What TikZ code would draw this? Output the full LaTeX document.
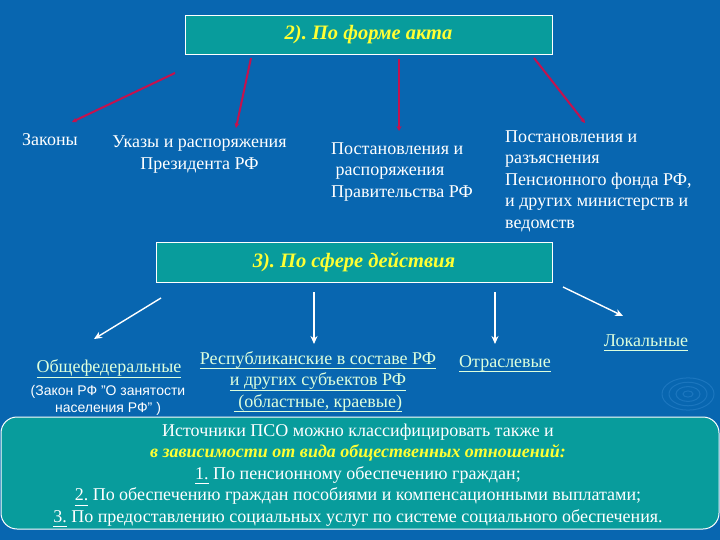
\documentclass[tikz,border=0pt]{standalone}
\usepackage{fontspec}
\setmainfont{Liberation Serif}
\setsansfont{Liberation Sans}
\usepackage{tikz}
\usetikzlibrary{arrows.meta}
\definecolor{SlideBlue}{HTML}{0866B0}
\definecolor{BoxTeal}{HTML}{089C9C}
\definecolor{ArrowRed}{HTML}{C4124E}
\definecolor{LinkGreen}{HTML}{DDFFDD}
\definecolor{TitleYellow}{HTML}{FFFF33}
\definecolor{SwirlBlue}{HTML}{4A9BE0}
\newsavebox{\ulbox}
\newcommand{\linkul}[1]{\sbox{\ulbox}{#1}\rlap{\rule[-5pt]{\wd\ulbox}{1.2pt}}\usebox{\ulbox}}

\begin{document}
\begin{tikzpicture}[x=1pt,y=-1pt,
  every node/.style={font=\fontsize{18}{21.5}\selectfont,text=white,inner sep=0pt},
  headbox/.style={draw=white,line width=.8pt,fill=BoxTeal,
    font=\fontsize{20.5}{24}\selectfont\bfseries\itshape,text=TitleYellow},
  redarrow/.style={-{Stealth[length=5pt,width=5pt]},ArrowRed,line width=2pt},
  whitearrow/.style={-{Stealth[length=8pt,width=7pt]},white,line width=1.4pt},
  linktext/.style={text=LinkGreen,align=center}]
\path[use as bounding box] (0,0) rectangle (720,540);
\fill[SlideBlue] (0,0) rectangle (720,540);
% faint swirl of the slide template
\foreach \r in {5,12,19,26} {
  \draw[SwirlBlue,opacity=.3,line width=1pt] (688,394) ellipse ({\r} and {0.62*\r});
}

% 2). by form of the act
\node[headbox,minimum width=367pt,minimum height=39pt] (form) at (368.5,34.5)
      {2).\ По форме акта};
\node (laws) at (50,140) {Законы};
\node[align=center] (decrees) at (199.5,154.5)
      {Указы и распоряжения\\Президента РФ};
\node[align=left,anchor=west] (govt) at (331,172)
      {Постановления и\\\ распоряжения\\Правительства РФ};
\node[align=left,anchor=west] (pension) at (505,181)
      {Постановления и\\разъяснения\\Пенсионного фонда РФ,\\и других министерств и\\ведомств};
\coordinate (r1s) at (175,73);  \coordinate (r1e) at (72,122);
\coordinate (r2s) at (251,58);  \coordinate (r2e) at (236,128);
\coordinate (r3s) at (399,59);  \coordinate (r3e) at (399,131);
\coordinate (r4s) at (534,58);  \coordinate (r4e) at (585,123);
\draw[redarrow] (r1s) -- (r1e);
\draw[redarrow] (r2s) -- (r2e);
\draw[redarrow] (r3s) -- (r3e);
\draw[redarrow] (r4s) -- (r4e);

% 3). by sphere of action
\node[headbox,minimum width=396pt,minimum height=40pt] (sphere) at (354,262)
      {3).\ По сфере действия};
\node[linktext] (local) at (646,343) {\linkul{Локальные}};
\node[linktext] (federal) at (109,369) {\linkul{Общефедеральные}};
\node[align=center,font=\sffamily\fontsize{14}{17}\selectfont] (fedlaw) at (108,400)
      {(Закон РФ "О занятости\\населения РФ" )};
\node[linktext] (republic) at (318,382)
      {\linkul{Республиканские в составе РФ}\\\linkul{и других субъектов РФ}\\\linkul{\ (областные, краевые)}};
\node[linktext] (branch) at (505,364) {\linkul{Отраслевые}};
\coordinate (w1s) at (161,298); \coordinate (w1e) at (94,339);
\coordinate (w2s) at (314,292); \coordinate (w2e) at (314,344);
\coordinate (w3s) at (495,292); \coordinate (w3e) at (495,344);
\coordinate (w4s) at (563,287); \coordinate (w4e) at (623,316);
\draw[whitearrow] (w1s) -- (w1e);
\draw[whitearrow] (w2s) -- (w2e);
\draw[whitearrow] (w3s) -- (w3e);
\draw[whitearrow] (w4s) -- (w4e);

% other classification
\draw[white,line width=1pt,fill=BoxTeal,rounded corners=16pt] (1,417) rectangle (719,529);
\node[align=center] (social) at (358,475.5)
      {Источники ПСО можно классифицировать также и\\
       {\bfseries\itshape\color{TitleYellow}в зависимости от вида общественных отношений:}\\
       \linkul{1.} По пенсионному обеспечению граждан;\\
       \linkul{2.} По обеспечению граждан пособиями и компенсационными выплатами;\\
       \linkul{3.} По предоставлению социальных услуг по системе социального обеспечения.};
\end{tikzpicture}
\end{document}
